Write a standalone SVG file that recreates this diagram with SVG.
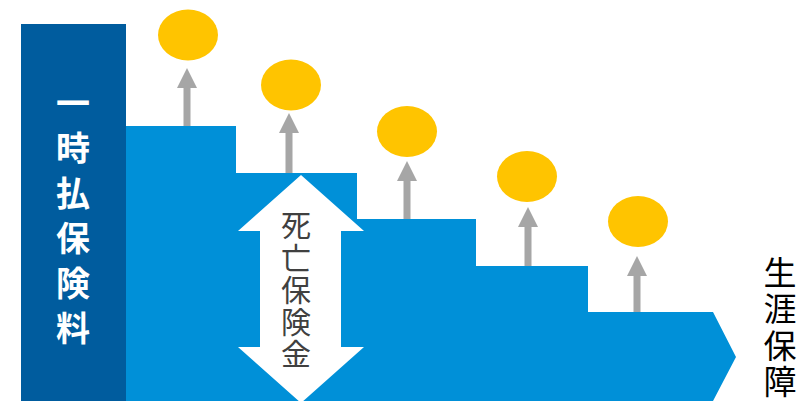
<svg xmlns="http://www.w3.org/2000/svg" width="808" height="401" viewBox="0 0 808 401">
<style>
.step{fill:#0090D8;}
.coin{fill:#FFC400;}
.up{fill:#A6A6A6;}
.lbl{font-family:"Noto Sans CJK JP","Noto Sans CJK SC",sans-serif;writing-mode:vertical-rl;text-orientation:upright;}
.w{fill:#FFFFFF;font-size:34px;font-weight:bold;letter-spacing:11px;}
.g{fill:#404040;font-size:30px;letter-spacing:2.25px;}
.k{fill:#000000;font-size:33px;letter-spacing:3.5px;}
</style>
<rect width="808" height="401" fill="#FFFFFF"/>
<g id="steps">
<path class="step" d="M126,126 H236 V173 H357 V219 H476 V266 H588 V312 H713 L736,357 L713,401 H126 Z"/>
</g>
<g id="lump-sum">
<rect x="21" y="24" width="105" height="377" fill="#005C9E"/>
<text class="lbl w" x="73" y="86">一時払保険料</text>
</g>
<g id="coins">
<ellipse class="coin" cx="188" cy="35" rx="30" ry="25.5"/>
<ellipse class="coin" cx="291" cy="85" rx="30" ry="25.5"/>
<ellipse class="coin" cx="407" cy="131.5" rx="30" ry="25.5"/>
<ellipse class="coin" cx="527" cy="176.5" rx="30" ry="25.5"/>
<ellipse class="coin" cx="638" cy="221.5" rx="30" ry="25.5"/>
</g>
<g id="connectors">
<path class="up" d="M187,68 L197,88 H190.5 V126 H183.5 V88 H177 Z"/>
<path class="up" d="M289,113 L299,133 H292.5 V173 H285.5 V133 H279 Z"/>
<path class="up" d="M407,161 L417,181 H410.5 V219 H403.5 V181 H397 Z"/>
<path class="up" d="M528,207 L538,227 H531.5 V266 H524.5 V227 H518 Z"/>
<path class="up" d="M637,256 L647,276 H640.5 V312 H633.5 V276 H627 Z"/>
</g>
<g id="death-benefit">
<path d="M301,175 L364,231 H341 V347 H364 L301,403 L238,347 H260 V231 H238 Z" fill="#FFFFFF"/>
<text class="lbl g" x="296" y="210">死亡保険金</text>
</g>
<g id="lifetime">
<text class="lbl k" x="780" y="255.5">生涯保障</text>
</g>
</svg>
